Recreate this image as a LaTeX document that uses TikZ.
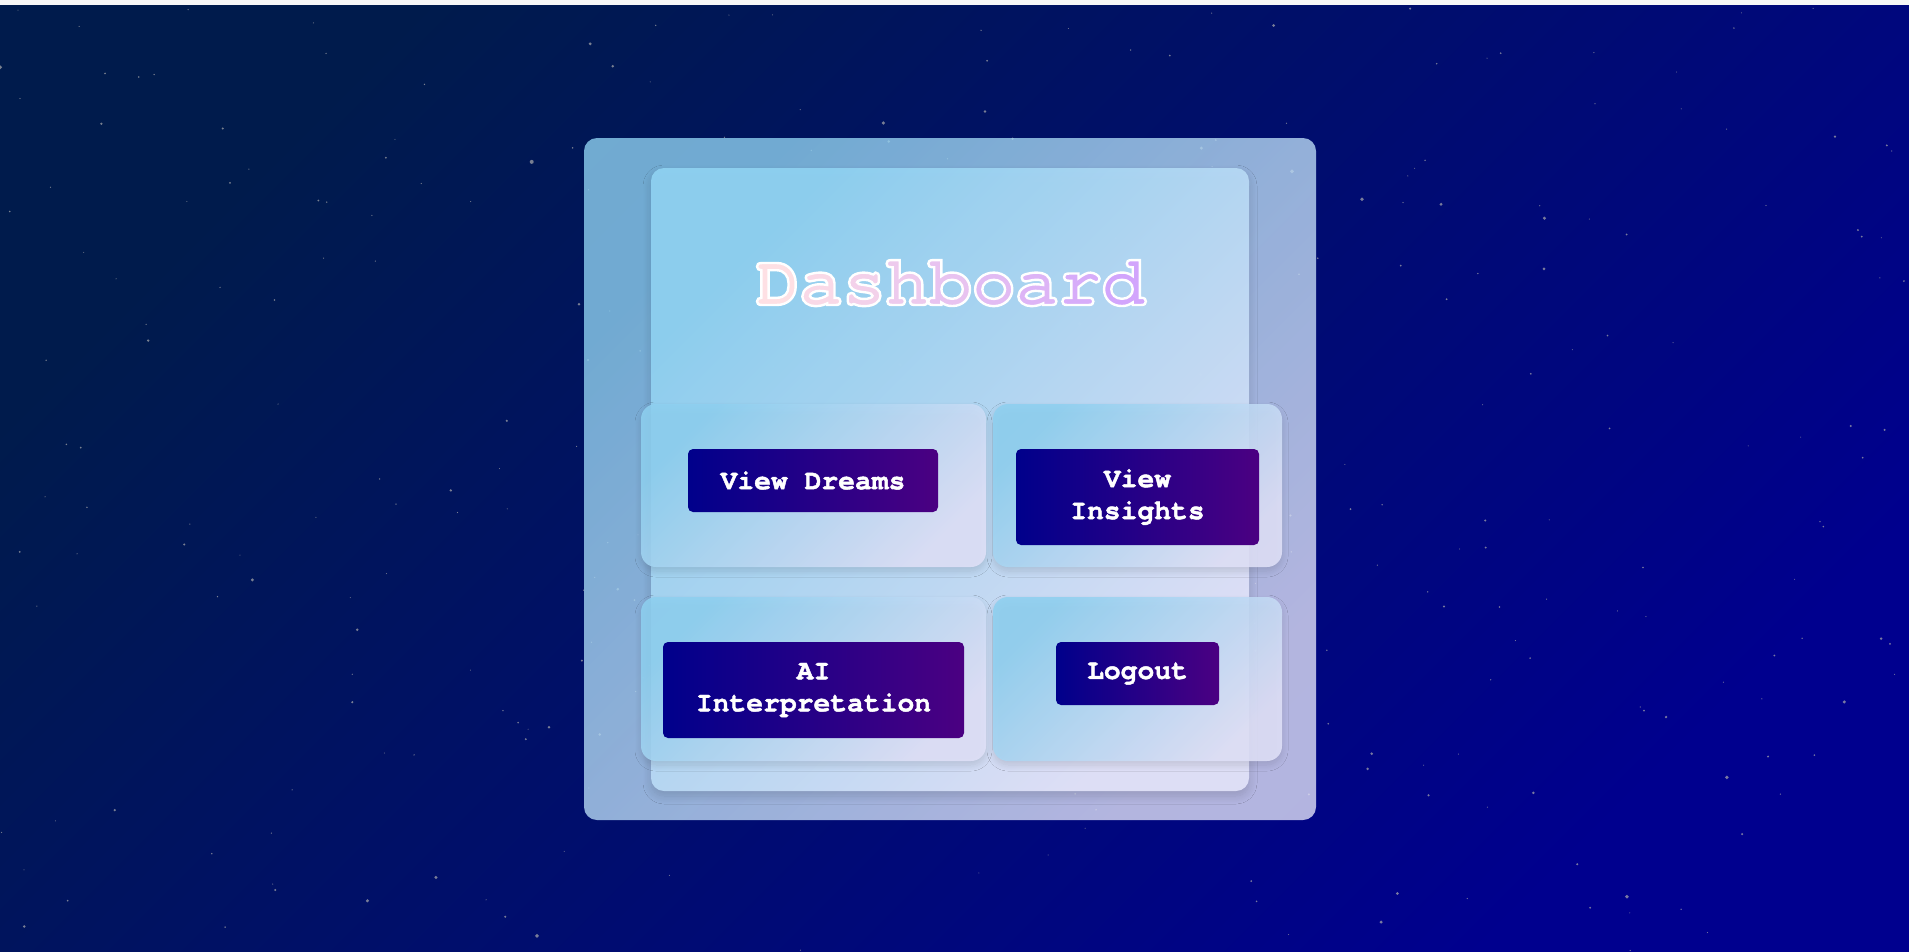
\documentclass[tikz,border=0pt]{standalone}
\usepackage{fontspec}
\setmonofont{texgyrecursor}[Extension=.otf,UprightFont=*-regular,BoldFont=*-bold]
\newfontfamily\btnfont{texgyrecursor-bold}[Extension=.otf,FakeBold=1.6]
\usetikzlibrary{shadows.blur}
\definecolor{sky}{RGB}{142,208,240}
\definecolor{lav}{RGB}{224,225,248}
\definecolor{night}{RGB}{0,27,76}
\definecolor{deep}{RGB}{0,0,142}
\definecolor{btnblue}{RGB}{0,0,139}
\definecolor{btnviolet}{RGB}{75,0,130}
\definecolor{pinkA}{RGB}{254,224,228}
\definecolor{violetB}{RGB}{210,165,252}
% white outline round the title letters
\newcommand{\outlined}[1]{\special{pdf:literal direct 1 1 1 RG 2.4 w 2 Tr}#1\special{pdf:literal direct 0 Tr 0.4 w}}
\begin{document}
\begin{tikzpicture}[x=1pt,y=-1pt,
    panel/.style={rounded corners=13pt,top color=sky,bottom color=lav,shading angle=45,inner sep=0pt},
    card/.style={rounded corners=15pt,top color=sky,bottom color=lav,shading angle=45,fill opacity=.88,inner sep=0pt,
      blur shadow={shadow xshift=0pt,shadow yshift=-4pt,shadow blur radius=6pt,shadow blur steps=12,shadow opacity=14}},
    btn/.style={rounded corners=5pt,left color=btnblue,right color=btnviolet,text=white,align=center,inner sep=0pt,
      font=\fontsize{28}{32}\selectfont\btnfont},
    title/.style={anchor=base,inner sep=0pt,font=\fontsize{72}{80}\selectfont\ttfamily\bfseries},
    star/.style={fill=gray!65,opacity=.7}]
    \useasboundingbox (0,0) rectangle (1909,951);
    %background
    \shade[top color=night,bottom color=deep,shading angle=45] (0,0) rectangle (1909,951);
    \fill[white!94!gray] (0,0) rectangle (1909,5);
    %stars
    \pgfmathsetseed{11}
    \foreach \s in {1,...,320}{
      \pgfmathsetmacro\sx{rnd*1909}
      \pgfmathsetmacro\sy{7+rnd*944}
      \pgfmathsetmacro\sr{0.5+rnd*rnd*1.6}
      \fill[star] (\sx,\sy) circle[radius=\sr pt];
    }
    %panels
    \node[panel,fill opacity=.8,minimum width=732pt,minimum height=682pt] (outer) at (950,479) {};
    \node[panel,fill opacity=.96,minimum width=598pt,minimum height=623pt,
      blur shadow={shadow xshift=0pt,shadow yshift=-5pt,shadow blur radius=8pt,shadow blur steps=12,shadow opacity=16}] (inner) at (950,479.5) {};
    %title
    \foreach \c [count=\i from 0] in {D,a,s,h,b,o,a,r,d}{
      \pgfmathsetmacro\mix{\i*12.5}
      \node[title,text=violetB!\mix!pinkA] (t\i) at (777.7+\i*43.2,305) {\outlined{\c}};
    }
    %cards
    \node[card,minimum width=345pt,minimum height=163pt] (dreamsCard) at (813.5,485.5) {};
    \node[card,minimum width=289pt,minimum height=163pt] (insightsCard) at (1137.5,485.5) {};
    \node[card,minimum width=345pt,minimum height=164pt] (aiCard) at (813.5,679) {};
    \node[card,minimum width=289pt,minimum height=164pt] (logoutCard) at (1137.5,679) {};
    %buttons
    \node[btn,minimum width=250pt,minimum height=63pt] (dreams) at (813,480.5) {View Dreams};
    \node[btn,minimum width=243pt,minimum height=96pt] (insights) at (1137.5,497) {View\\Insights};
    \node[btn,minimum width=301pt,minimum height=96pt] (ai) at (813.5,690) {AI\\Interpretation};
    \node[btn,minimum width=163pt,minimum height=63pt] (logout) at (1137.5,673.5) {Logout};
\end{tikzpicture}
\end{document}
